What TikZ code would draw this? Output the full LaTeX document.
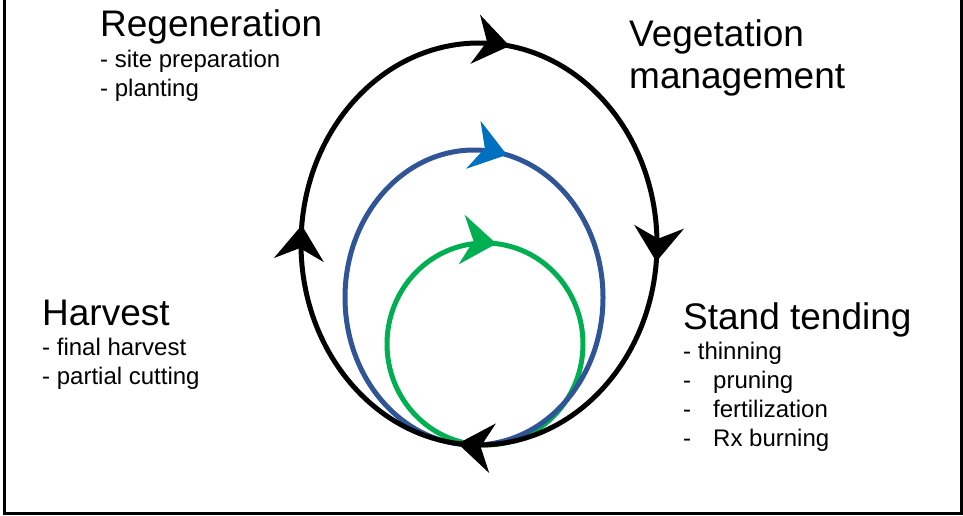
\documentclass[tikz,border=0pt]{standalone}
\usepackage{fontspec}
\setmainfont{Liberation Sans}
\usetikzlibrary{positioning, arrows.meta, decorations.markings}

\definecolor{cycblue}{HTML}{2F5597}
\definecolor{tipblue}{HTML}{0070C0}
\definecolor{cycgreen}{HTML}{00B050}

\tikzset{
  cycarrow/.tip={Stealth[length=35pt, width=50pt, inset=12pt, line width=1pt]},
  cycline/.style={line width=5pt, postaction={decorate}},
  stage/.style={inner sep=0pt, font=\fontsize{37}{41}\selectfont, text height=27pt, text depth=8.5pt},
  task/.style={inner sep=0pt, font=\fontsize{24}{28.5}\selectfont, text height=22pt, text depth=6.5pt},
}

\begin{document}
\begin{tikzpicture}[x=1pt, y=1pt]
  \useasboundingbox (0,0) rectangle (963,515);
  % frame (open at the top)
  \draw[line width=3pt] (4,515) -- (4,2) -- (961,2) -- (961,515);

  % centres of the three cycles
  \coordinate (gc) at (485,171);
  \coordinate (bc) at (474,217.5);
  \coordinate (kc) at (479,271);

  % inner cycles
  \draw[cycline, cycgreen, decoration={markings, mark=at position 0.142 with {\arrow{cycarrow}}}]
    (gc) ++(135:98 and 101) arc[start angle=135, end angle=-225, x radius=98, y radius=101];
  \draw[cycline, cycblue, decoration={markings, mark=at position 0.158 with {\arrow[color=tipblue]{cycarrow}}}]
    (bc) ++(135:129 and 147.5) arc[start angle=135, end angle=-225, x radius=129, y radius=147.5];

  % outer cycle
  \draw[cycline, black, decoration={markings,
      mark=at position 0.146 with {\arrow{cycarrow}},
      mark=at position 0.385 with {\arrow{cycarrow}},
      mark=at position 0.638 with {\arrow{cycarrow}},
      mark=at position 0.886 with {\arrow{cycarrow}}}]
    (kc) ++(135:178 and 201) arc[start angle=135, end angle=-225, x radius=178, y radius=201];

  % stages
  \node[stage, anchor=base west] (regen) at (100,478) {Regeneration};
  \node[task, below right=0pt and 0pt of regen.south west] (regen1) {- site preparation};
  \node[task, below right=0pt and 0pt of regen1.south west] (regen2) {- planting};

  \node[stage, anchor=base west] (veg) at (629,468) {Vegetation};
  \node[stage, text height=32.5pt, below right=0pt and 0pt of veg.south west] (veg2) {management};

  \node[stage, anchor=base west] (harv) at (42,190) {Harvest};
  \node[task, below right=0pt and 0pt of harv.south west] (harv1) {- final harvest};
  \node[task, below right=0pt and 0pt of harv1.south west] (harv2) {- partial cutting};

  \node[stage, anchor=base west] (tend) at (683,186) {Stand tending};
  \node[task, below right=0pt and 0pt of tend.south west] (tend1) {- thinning};
  \node[task, below right=0pt and 0pt of tend1.south west] (tend2) {-\hspace{22pt}pruning};
  \node[task, below right=0pt and 0pt of tend2.south west] (tend3) {-\hspace{22pt}fertilization};
  \node[task, below right=0pt and 0pt of tend3.south west] (tend4) {-\hspace{22pt}Rx burning};
\end{tikzpicture}
\end{document}
